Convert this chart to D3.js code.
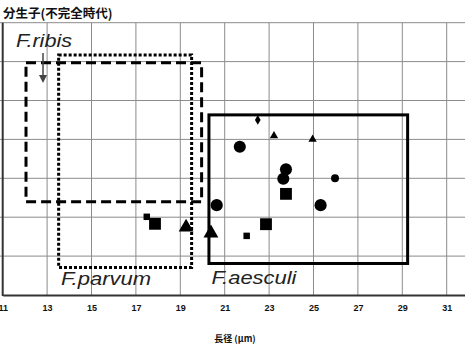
<!DOCTYPE html>
<html>
<head>
<meta charset="utf-8">
<script src="https://cdn.jsdelivr.net/npm/d3@7"></script>
<style>
  body { margin: 0; background: #fff; }
  svg { display: block; font-family: "Liberation Sans", Arial, sans-serif; }
</style>
</head>
<body>
<div id="chart"></div>
<script>
// conidia length (x) / width (y), um
const xTicks = [11, 13, 15, 17, 19, 21, 23, 25, 27, 29, 31];
const yTicks = [3, 4, 5, 6, 7, 8, 9, 10];

// species ranges
const species = ['F.ribis', 'F.parvum', 'F.aesculi'];
const rangeX0 = [12.05, 13.52, 20.29];
const rangeX1 = [19.96, 19.51, 29.24];
const rangeY0 = [5.4, 3.71, 3.81];
const rangeY1 = [8.97, 9.17, 7.63];

// measured isolates
const ptLength = [22.49, 23.22, 24.96, 21.68, 23.76, 23.64, 25.97, 23.76, 20.64, 25.32, 22.86, 21.99, 20.38, 17.49, 17.86, 19.26];
const ptWidth  = [7.5, 7.09, 7.0, 6.81, 6.23, 5.99, 6.0, 5.6, 5.31, 5.31, 4.82, 4.52, 4.59, 5.01, 4.83, 4.74];
const ptShape  = ['diamond', 'triangle', 'triangle', 'circle', 'circle', 'circle', 'circle', 'square', 'circle', 'circle', 'square', 'square', 'triangle', 'square', 'square', 'triangle'];
const ptLarge  = [false, false, false, true, true, true, false, true, true, true, true, false, true, false, true, true];

const W = 465, H = 347;
const svg = d3.select('#chart').append('svg')
  .attr('width', W)
  .attr('height', H);

const x = d3.scaleLinear().domain([11, 32]).range([2.7, 468.9]);
const y = d3.scaleLinear().domain([3, 10]).range([295, 22.7]);

// grid
svg.append('g')
  .selectAll('line.v')
  .data(xTicks.slice(1))
  .join('line')
  .attr('x1', d => x(d)).attr('x2', d => x(d))
  .attr('y1', y(10)).attr('y2', y(3))
  .attr('stroke', '#8c8c8c').attr('stroke-width', 1);

svg.append('g')
  .selectAll('line.h')
  .data(yTicks.slice(1))
  .join('line')
  .attr('x1', 0).attr('x2', W)
  .attr('y1', d => y(d)).attr('y2', d => y(d))
  .attr('stroke', '#8c8c8c').attr('stroke-width', 1);

// axes
svg.append('line')
  .attr('x1', x(11)).attr('x2', x(11))
  .attr('y1', y(10)).attr('y2', y(3) + 1)
  .attr('stroke', '#333').attr('stroke-width', 2);

const xAxis = svg.append('g')
  .attr('transform', `translate(0,${y(3)})`)
  .call(d3.axisBottom(x).tickValues(xTicks).tickSize(0).tickPadding(10).tickFormat(d3.format('d')));
xAxis.select('.domain').attr('stroke', '#333').attr('stroke-width', 2.2);
xAxis.selectAll('text')
  .attr('font-size', 9)
  .attr('font-weight', 'bold')
  .attr('fill', '#111');

// species ranges
const dashes = ['10,5', '3,2', null];
svg.append('g')
  .selectAll('rect')
  .data(species)
  .join('rect')
  .attr('x', (d, i) => x(rangeX0[i]))
  .attr('y', (d, i) => y(rangeY1[i]))
  .attr('width', (d, i) => x(rangeX1[i]) - x(rangeX0[i]))
  .attr('height', (d, i) => y(rangeY0[i]) - y(rangeY1[i]))
  .attr('fill', 'none')
  .attr('stroke', '#000')
  .attr('stroke-width', 3)
  .attr('stroke-dasharray', (d, i) => dashes[i]);

// species labels
const labelPos = [[16, 46.5], [61, 285], [211.5, 283.5]];
const labelLen = [56, 90, 85];
svg.append('g')
  .selectAll('text')
  .data(species)
  .join('text')
  .attr('x', (d, i) => labelPos[i][0])
  .attr('y', (d, i) => labelPos[i][1])
  .attr('font-size', 19)
  .attr('font-style', 'italic')
  .attr('textLength', (d, i) => labelLen[i])
  .attr('lengthAdjust', 'spacingAndGlyphs')
  .attr('fill', '#222')
  .text(d => d);

// arrow from F.ribis label
svg.append('line')
  .attr('x1', 43).attr('x2', 43)
  .attr('y1', 53).attr('y2', 78)
  .attr('stroke', '#444').attr('stroke-width', 1.5);
svg.append('path')
  .attr('d', 'M39,75 L47,75 L43,83 Z')
  .attr('fill', '#444');

// points
const symType = { circle: d3.symbolCircle, square: d3.symbolSquare, triangle: d3.symbolTriangle, diamond: d3.symbolDiamond };
const symArea = {
  circle: [50, 115],
  square: [42, 140],
  triangle: [30, 95],
  diamond: [28, 28]
};
svg.append('g')
  .selectAll('path')
  .data(ptLength)
  .join('path')
  .attr('transform', (d, i) => `translate(${x(d)},${y(ptWidth[i])})`)
  .attr('d', (d, i) => d3.symbol()
    .type(symType[ptShape[i]])
    .size(symArea[ptShape[i]][ptLarge[i] ? 1 : 0])())
  .attr('fill', '#000');

// titles
svg.append('text')
  .attr('x', 3).attr('y', 18)
  .attr('font-family', '"Noto Sans CJK JP", sans-serif')
  .attr('font-size', 12.5)
  .attr('font-weight', 'bold')
  .attr('fill', '#111')
  .text('分生子(不完全時代)');

svg.append('text')
  .attr('x', 235).attr('y', 342)
  .attr('text-anchor', 'middle')
  .attr('font-family', '"Noto Sans CJK JP", sans-serif')
  .attr('font-size', 9)
  .attr('font-weight', 'bold')
  .attr('fill', '#111')
  .text('長径 (μm)');
</script>
</body>
</html>
